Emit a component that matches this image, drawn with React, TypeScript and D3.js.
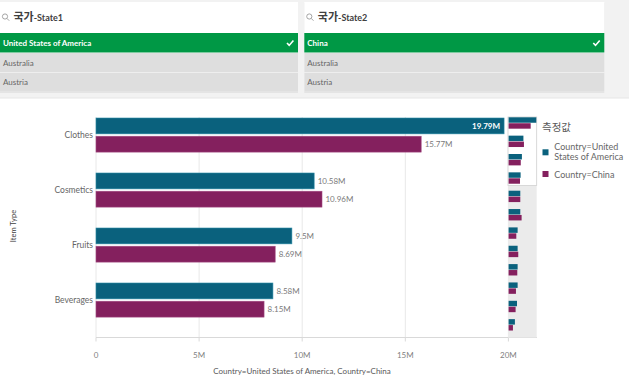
import React from "react";
import * as d3 from "d3";

const categories = [
  "Clothes", "Cosmetics", "Fruits", "Beverages", "Baby Food", "Cereal",
  "Household", "Meat", "Office Supplies", "Personal Care", "Snacks", "Vegetables",
];
const usaValues = [19.79, 10.58, 9.5, 8.58, 8.35, 8.35, 6.45, 6.45, 6.45, 6.45, 6.0, 4.5];
const chinaValues = [15.77, 10.96, 8.69, 8.15, 8.35, 9.3, 5.5, 6.9, 6.2, 5.25, 5.0, 3.1];
const visibleCount = 4;
const xTicks = [0, 5, 10, 15, 20];
const seriesNames = ["Country=United States of America", "Country=China"];
const legendLines = [["Country=United", "States of America"], ["Country=China"]];
const list1 = ["United States of America", "Australia", "Austria"];
const list2 = ["China", "Australia", "Austria"];
const list1Title = ["국가", "-State1"];
const list2Title = ["국가", "-State2"];

const COL_USA = "#0a617d";
const COL_CHN = "#84205e";
const FONT = "Lato, 'Open Sans', sans-serif";
const CJK = "'Noto Sans CJK KR', sans-serif";

function ListBox({ x, w, title, items }: { x: number; w: number; title: string[]; items: string[] }) {
  const top = 2;
  const rows = [33, 53, 72.5];
  const rh = [19.5, 19, 18.5];
  return (
    <g>
      <rect x={x} y={top + 1} width={w} height={90} fill="#e4e4e4" />
      <rect x={x} y={top} width={w} height={89} fill="#ffffff" />
      <g transform={`translate(${x + 5},${top + 14.5})`} stroke="#9a9a9a" fill="none" strokeWidth={0.9}>
        <circle cx={0} cy={0} r={2.6} />
        <line x1={1.9} y1={1.9} x2={4.2} y2={4.2} />
      </g>
      <text x={x + 13.5} y={top + 19} fontSize={11} fill="#404040">
        <tspan fontFamily={CJK} fontWeight={700}>{title[0]}</tspan>
        <tspan fontFamily={FONT} fontWeight={700} fontSize={9}>{title[1]}</tspan>
      </text>
      {items.map((t, i) => (
        <g key={i}>
          <rect x={x} y={rows[i]} width={w} height={rh[i]} fill={i === 0 ? "#009845" : "#dedede"} />
          <text x={x + 3} y={rows[i] + rh[i] / 2 + 3} fontFamily={FONT} fontSize={8}
            fontWeight={i === 0 ? 700 : 400} fill={i === 0 ? "#ffffff" : "#666666"}>{t}</text>
        </g>
      ))}
      <path d={`M${x + w - 11},${43} l2.2,2.4 l4.2,-5`} stroke="#ffffff" strokeWidth={1.6} fill="none" />
    </g>
  );
}

export default function App() {
  const W = 629, H = 381;
  const x = d3.scaleLinear().domain([0, 20]).range([96, 508.4]);
  const visible = categories.slice(0, visibleCount);
  const y = d3.scaleBand<string>().domain(visible).range([118, 338]).paddingInner(0.38).paddingOuter(0.19).align(0);
  const sub = d3.scaleBand<string>().domain(["usa", "chn"]).range([0, y.bandwidth()]).paddingInner(0.13);

  const mx = d3.scaleLinear().domain([0, 20]).range([508.6, 536.6]);
  const my = d3.scaleBand<string>().domain(categories).range([117.3, 337.5]).paddingInner(0.38).paddingOuter(0.19).align(0);
  const msub = d3.scaleBand<string>().domain(["usa", "chn"]).range([0, my.bandwidth()]).paddingInner(0.08);

  const fmt = (v: number) => `${d3.format("~r")(+v.toFixed(2))}M`;
  const axisY = 337.5;
  const viewBottom = (my(categories[visibleCount - 1]) as number) + my.bandwidth() + 1.8;

  return (
    <div style={{ position: "absolute", left: 0, top: 0 }}>
      <svg width={W} height={H} style={{ display: "block" }}>
        <rect x={0} y={0} width={W} height={H} fill="#ffffff" />
        <rect x={0} y={0} width={W} height={98} fill="#f2f2f2" />
        <line x1={0} x2={W} y1={98} y2={98} stroke="#e6e6e6" />
        <ListBox x={0} w={298} title={list1Title} items={list1} />
        <ListBox x={304.3} w={300} title={list2Title} items={list2} />

        {xTicks.map((t) => (
          <line key={"g" + t} x1={x(t)} x2={x(t)} y1={117} y2={axisY} stroke="#e8e8e8" strokeWidth={1} />
        ))}
        {visible.map((c, i) => {
          const y0 = y(c) as number;
          return (
            <g key={c}>
              {[usaValues[i], chinaValues[i]].map((v, j) => {
                const by = y0 + (sub(j === 0 ? "usa" : "chn") as number);
                const bw = x(v) - x(0);
                const inside = bw > 380;
                return (
                  <g key={j}>
                    <rect x={x(0)} y={by} width={bw} height={sub.bandwidth()} fill={j === 0 ? COL_USA : COL_CHN}
                      stroke={j === 0 ? "#2b8aa5" : "#a34a80"} strokeWidth={0.6} />
                    <text x={inside ? x(v) - 4 : x(v) + 3.5} y={by + sub.bandwidth() / 2 + 3}
                      textAnchor={inside ? "end" : "start"} fontFamily={FONT} fontSize={8}
                      fontWeight={inside ? 700 : 400} fill={inside ? "#ffffff" : "#7a7a7a"}>{fmt(v)}</text>
                  </g>
                );
              })}
              <text x={93} y={y0 + y.bandwidth() / 2 + 3} textAnchor="end" fontFamily={FONT} fontSize={8.5} fill="#666666">{c}</text>
            </g>
          );
        })}
        <line x1={x(0)} x2={537} y1={axisY} y2={axisY} stroke="#d9d9d9" strokeWidth={1} />
        {xTicks.map((t) => (
          <g key={"t" + t}>
            <line x1={x(t)} x2={x(t)} y1={axisY} y2={axisY + 4} stroke="#d9d9d9" />
            <text x={x(t)} y={358} textAnchor="middle" fontFamily={FONT} fontSize={8} fill="#808080">{t === 0 ? "0" : `${t}M`}</text>
          </g>
        ))}
        <text x={302} y={374} textAnchor="middle" fontFamily={FONT} fontSize={8} fill="#595959">{seriesNames.join(", ")}</text>
        <text transform="translate(16,226) rotate(-90)" textAnchor="middle" fontFamily={FONT} fontSize={7.5} fill="#404040">Item Type</text>

        <rect x={508} y={117} width={28.7} height={axisY - 117} fill="#ebebeb" />
        <rect x={508} y={117} width={28.7} height={viewBottom - 117} fill="#ffffff" stroke="#d0d0d0" strokeWidth={0.8} />
        {categories.map((c, i) => {
          const y0 = my(c) as number;
          return (
            <g key={"m" + c}>
              <rect x={mx(0)} y={y0 + (msub("usa") as number)} width={mx(usaValues[i]) - mx(0)} height={msub.bandwidth()} fill={COL_USA} />
              <rect x={mx(0)} y={y0 + (msub("chn") as number)} width={mx(chinaValues[i]) - mx(0)} height={msub.bandwidth()} fill={COL_CHN} />
            </g>
          );
        })}

        <text x={542} y={131} fontFamily={CJK} fontSize={10.5} fill="#595959">측정값</text>
        {legendLines.map((lines, i) => {
          const ly = i === 0 ? 149.3 : 171;
          return (
            <g key={"l" + i}>
              <rect x={542.5} y={ly} width={6} height={6} fill={i === 0 ? COL_USA : COL_CHN} />
              {lines.map((t, k) => (
                <text key={k} x={554.3} y={(i === 0 ? 149.5 : 177.5) + k * 10.5} fontFamily={FONT} fontSize={9} fill="#666666">{t}</text>
              ))}
            </g>
          );
        })}
      </svg>
    </div>
  );
}
